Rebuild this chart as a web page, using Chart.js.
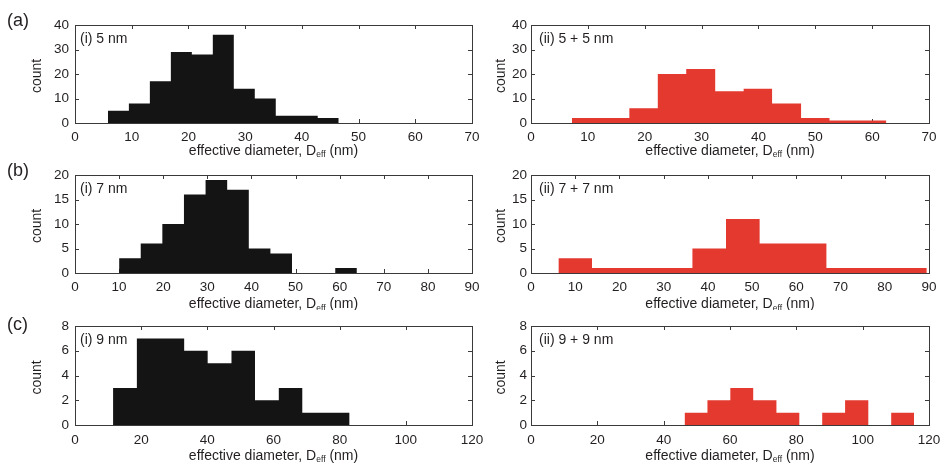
<!DOCTYPE html>
<html>
<head>
<meta charset="utf-8">
<title>effective diameter histograms</title>
<script src="https://cdn.jsdelivr.net/npm/chart.js@4.4.1/dist/chart.umd.min.js"></script>
<style>
  html, body { margin: 0; padding: 0; background: #fff; }
  #fig { position: relative; width: 944px; height: 465px; overflow: hidden; background: #fff; }
  #fig canvas { position: absolute; }
</style>
</head>
<body>
<div id="fig"></div>
<script>
// ── Data (bin edges in nm, counts per bin) ────────────────
const xTicksA = [0, 10, 20, 30, 40, 50, 60, 70];
const yTicksA = [0, 10, 20, 30, 40];
const xTicksB = [0, 10, 20, 30, 40, 50, 60, 70, 80, 90];
const yTicksB = [0, 5, 10, 15, 20];
const xTicksC = [0, 20, 40, 60, 80, 100, 120];
const yTicksC = [0, 2, 4, 6, 8];

const edgesA1  = [5.8, 9.5, 13.2, 16.9, 20.6, 24.3, 28.0, 31.7, 35.4, 39.1, 42.8, 46.5];
const countsA1 = [5, 8, 17, 29, 28, 36, 14, 10, 3, 3, 2];
const edgesA2  = [7.2, 12.2, 17.3, 22.3, 27.3, 32.4, 37.4, 42.4, 47.5, 52.5, 57.5, 62.5];
const countsA2 = [2, 2, 6, 20, 22, 13, 14, 8, 2, 1, 1];

const edgesB1  = [10.0, 14.9, 19.8, 24.7, 29.6, 34.5, 39.4, 44.3, 49.2, 54.1, 59.0, 63.9];
const countsB1 = [3, 6, 10, 16, 19, 17, 5, 4, 0, 0, 1];
const edgesB2  = [6.2, 13.8, 21.4, 28.9, 36.5, 44.1, 51.7, 59.2, 66.8, 74.4, 82.0, 89.5];
const countsB2 = [3, 1, 1, 1, 5, 11, 6, 6, 1, 1, 1];

const edgesC1  = [11.5, 18.7, 25.8, 33.0, 40.1, 47.3, 54.4, 61.6, 68.7, 75.9, 83.0];
const countsC1 = [3, 7, 7, 6, 5, 6, 2, 3, 1, 1];
const edgesC2  = [46.3, 53.2, 60.1, 67.0, 74.0, 80.9, 87.8, 94.7, 101.7, 108.6, 115.5];
const countsC2 = [1, 2, 3, 2, 1, 0, 1, 2, 0, 1];

// ── Look ──────────────────────────────────────────────────
const FONT  = "'Liberation Sans', Arial, Helvetica, sans-serif";
const TXT   = '#231f20';
const AXIS  = '#3a3a3a';
const BLACK = '#141414';
const RED   = '#e4392f';

// canvas columns / rows (px)
const cols = [
  { left: 0,   width: 484, yW: 75, padR: 12, tickPad: 6, titleX: 37, tagX: 80 },
  { left: 484, width: 460, yW: 47, padR: 15, tickPad: 4, titleX: 17, tagX: 55 },
];
const rows = [
  { top: 0,   height: 160, padT: 25, plotH: 98, letter: '(a)', letterY: 21, xPad: 6, xTitleDy: 28 },
  { top: 160, height: 150, padT: 15, plotH: 98, letter: '(b)', letterY: 11, xPad: 6, xTitleDy: 31.5 },
  { top: 310, height: 155, padT: 16, plotH: 99, letter: '(c)', letterY: 15, xPad: 7, xTitleDy: 31 },
];

const panels = [
  { row: 0, col: 0, edges: edgesA1, counts: countsA1, xTicks: xTicksA, yTicks: yTicksA, color: BLACK, tag: '(i) 5 nm' },
  { row: 0, col: 1, edges: edgesA2, counts: countsA2, xTicks: xTicksA, yTicks: yTicksA, color: RED,   tag: '(ii) 5 + 5 nm' },
  { row: 1, col: 0, edges: edgesB1, counts: countsB1, xTicks: xTicksB, yTicks: yTicksB, color: BLACK, tag: '(i) 7 nm' },
  { row: 1, col: 1, edges: edgesB2, counts: countsB2, xTicks: xTicksB, yTicks: yTicksB, color: RED,   tag: '(ii) 7 + 7 nm' },
  { row: 2, col: 0, edges: edgesC1, counts: countsC1, xTicks: xTicksC, yTicks: yTicksC, color: BLACK, tag: '(i) 9 nm' },
  { row: 2, col: 1, edges: edgesC2, counts: countsC2, xTicks: xTicksC, yTicks: yTicksC, color: RED,   tag: '(ii) 9 + 9 nm' },
];

// ── Helpers ───────────────────────────────────────────────
function drawXTitle(ctx, cx, cy) {
  const parts = [
    { t: 'effective diameter, D', f: '14px ' + FONT, dy: 0 },
    { t: 'eff',                   f: '8.5px ' + FONT, dy: 4 },
    { t: ' (nm)',                 f: '14px ' + FONT, dy: 0 },
  ];
  let w = 0;
  parts.forEach(p => { ctx.font = p.f; p.w = ctx.measureText(p.t).width; w += p.w; });
  let x = cx - w / 2;
  ctx.textAlign = 'left';
  ctx.textBaseline = 'middle';
  parts.forEach(p => { ctx.font = p.f; ctx.fillText(p.t, x, cy + p.dy); x += p.w; });
}

// histogram outline as step points: (left edge, count) ... (last edge, 0)
function stepPoints(edges, counts) {
  const pts = counts.map((n, i) => ({ x: edges[i], y: n }));
  pts.push({ x: edges[edges.length - 1], y: 0 });
  return pts;
}

// box, inward ticks and texts
const decor = {
  id: 'decor',
  beforeDatasetsDraw(chart, args, o) {
    const { ctx, chartArea: a, scales: { x, y } } = chart;
    const L = 4;
    ctx.save();
    ctx.strokeStyle = AXIS;
    ctx.lineWidth = 1;
    ctx.beginPath();
    x.ticks.forEach(t => {
      const px = Math.round(x.getPixelForValue(t.value)) + 0.5;
      ctx.moveTo(px, a.bottom); ctx.lineTo(px, a.bottom - L);
      ctx.moveTo(px, a.top);    ctx.lineTo(px, a.top + L);
    });
    y.ticks.forEach(t => {
      const py = Math.round(y.getPixelForValue(t.value)) + 0.5;
      ctx.moveTo(a.left, py);  ctx.lineTo(a.left + L, py);
      ctx.moveTo(a.right, py); ctx.lineTo(a.right - L, py);
    });
    ctx.stroke();
    ctx.restore();
  },
  afterDatasetsDraw(chart, args, o) {
    const { ctx, chartArea: a } = chart;
    ctx.save();
    ctx.strokeStyle = AXIS;
    ctx.lineWidth = 1;
    ctx.strokeRect(Math.round(a.left) + 0.5, Math.round(a.top) + 0.5,
                   Math.round(a.right - a.left), Math.round(a.bottom - a.top));
    ctx.fillStyle = TXT;
    // panel tag
    ctx.font = '14px ' + FONT;
    ctx.textAlign = 'left';
    ctx.textBaseline = 'middle';
    ctx.fillText(o.tag, o.tagX, a.top + 14.5);
    // panel letter
    if (o.letter) {
      ctx.font = '18px ' + FONT;
      ctx.fillText(o.letter, 7, o.letterY);
    }
    // y title
    ctx.save();
    ctx.translate(o.titleX, (a.top + a.bottom) / 2 + 2);
    ctx.rotate(-Math.PI / 2);
    ctx.font = '14px ' + FONT;
    ctx.textAlign = 'center';
    ctx.fillText('count', 0, 0);
    ctx.restore();
    // x title
    drawXTitle(ctx, (a.left + a.right) / 2, a.bottom + o.xTitleDy);
    ctx.restore();
  }
};

// ── Build ─────────────────────────────────────────────────
const fig = document.getElementById('fig');

panels.forEach(p => {
  const c = cols[p.col], r = rows[p.row];
  const cv = document.createElement('canvas');
  cv.width = c.width; cv.height = r.height;
  cv.style.left = c.left + 'px'; cv.style.top = r.top + 'px';
  cv.style.width = c.width + 'px'; cv.style.height = r.height + 'px';
  fig.appendChild(cv);

  const xH = r.height - r.padT - r.plotH;

  new Chart(cv, {
    type: 'line',
    data: {
      datasets: [{
        data: stepPoints(p.edges, p.counts),
        stepped: 'before',
        fill: 'origin',
        backgroundColor: p.color,
        borderColor: p.color,
        borderWidth: 0,
        pointRadius: 0,
      }]
    },
    options: {
      responsive: false,
      animation: false,
      devicePixelRatio: 1,
      layout: { padding: { left: 0, top: r.padT, right: c.padR, bottom: 0 } },
      plugins: {
        legend: { display: false },
        tooltip: { enabled: false },
        decor: {
          tag: p.tag, tagX: c.tagX, titleX: c.titleX, xTitleDy: r.xTitleDy,
          letter: p.col === 0 ? r.letter : null, letterY: r.letterY,
        }
      },
      scales: {
        x: {
          type: 'linear',
          min: p.xTicks[0], max: p.xTicks[p.xTicks.length - 1],
          grid: { display: false, drawTicks: false },
          border: { display: false },
          ticks: { color: TXT, font: { family: FONT, size: 13.5 }, padding: r.xPad, maxRotation: 0, autoSkip: false },
          afterBuildTicks: s => { s.ticks = p.xTicks.map(v => ({ value: v })); },
          afterFit: s => { s.height = xH; s.paddingLeft = 0; s.paddingRight = 0; },
        },
        y: {
          min: p.yTicks[0], max: p.yTicks[p.yTicks.length - 1],
          grid: { display: false, drawTicks: false },
          border: { display: false },
          ticks: { color: TXT, font: { family: FONT, size: 13.5 }, padding: c.tickPad },
          afterBuildTicks: s => { s.ticks = p.yTicks.map(v => ({ value: v })); },
          afterFit: s => { s.width = c.yW; s.paddingTop = 0; s.paddingBottom = 0; },
        }
      }
    },
    plugins: [decor]
  });
});
</script>
</body>
</html>
